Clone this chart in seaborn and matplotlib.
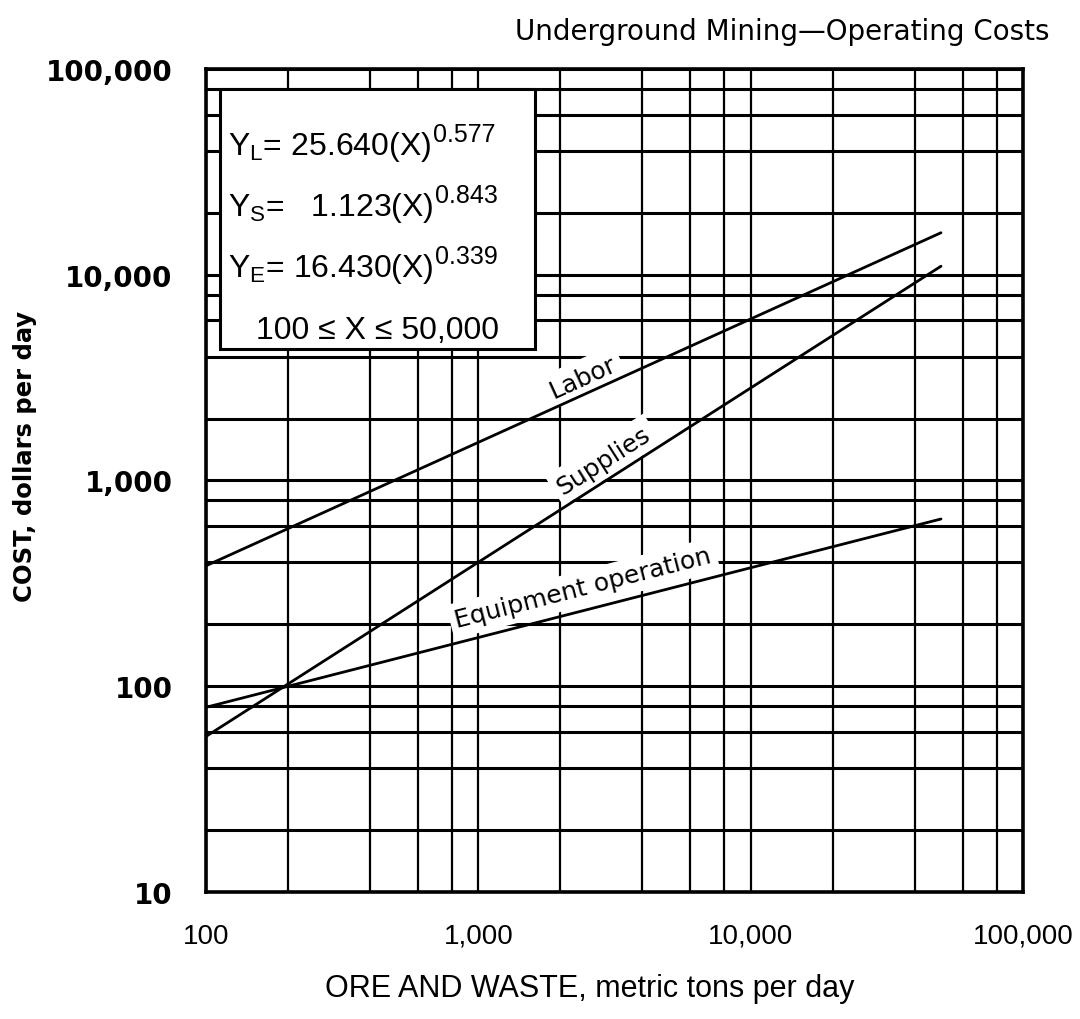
import numpy as np
import pandas as pd
import seaborn as sns
import matplotlib.pyplot as plt
from matplotlib.ticker import LogLocator, FixedLocator, FixedFormatter, NullFormatter
from matplotlib.patches import Rectangle

# Data (end points of straight log-log lines)
x_tpd = [100, 50000]
labor = [385, 16000]
supplies = [57, 11000]
equipment = [79, 650]

x_ticks = [100, 1000, 10000, 100000]
x_ticklabels = ["100", "1,000", "10,000", "100,000"]
y_ticks = [10, 100, 1000, 10000, 100000]
y_ticklabels = ["10", "100", "1,000", "10,000", "100,000"]
grid_subs = [2, 4, 6, 8]

eq_bases = [r"Y$_\mathrm{L}$= 25.640(X)",
            r"Y$_\mathrm{S}$=   1.123(X)",
            r"Y$_\mathrm{E}$= 16.430(X)"]
eq_powers = ["0.577", "0.843", "0.339"]
x_range_text = "100 \u2264 X \u2264 50,000"

sns.set_theme(style="white")
plt.rcParams["font.family"] = ["DejaVu Sans"]
for k in ["text.color", "axes.labelcolor", "xtick.color", "ytick.color"]:
    plt.rcParams[k] = "black"
plt.rcParams["mathtext.fontset"] = "custom"
plt.rcParams["mathtext.rm"] = "Liberation Sans"
plt.rcParams["mathtext.it"] = "Liberation Sans"

fig = plt.figure(figsize=(10.8, 10.2), dpi=100)
ax = fig.add_axes([0.1907, 0.1245, 0.7565, 0.8069])

df = pd.concat([
    pd.DataFrame({"x": x_tpd, "cost": labor, "item": "Labor"}),
    pd.DataFrame({"x": x_tpd, "cost": supplies, "item": "Supplies"}),
    pd.DataFrame({"x": x_tpd, "cost": equipment, "item": "Equipment operation"}),
])
sns.lineplot(data=df, x="x", y="cost", hue="item", palette=["black"] * 3,
             linewidth=2.0, legend=False, ax=ax, zorder=3)

ax.set_xscale("log")
ax.set_yscale("log")
ax.set_xlim(100, 100000)
ax.set_ylim(10, 100000)

ax.xaxis.set_major_locator(FixedLocator(x_ticks))
ax.xaxis.set_major_formatter(FixedFormatter(x_ticklabels))
ax.yaxis.set_major_locator(FixedLocator(y_ticks))
ax.yaxis.set_major_formatter(FixedFormatter(y_ticklabels))
ax.xaxis.set_minor_locator(LogLocator(base=10, subs=grid_subs))
ax.yaxis.set_minor_locator(LogLocator(base=10, subs=grid_subs))
ax.xaxis.set_minor_formatter(NullFormatter())
ax.yaxis.set_minor_formatter(NullFormatter())

ax.grid(True, which="both", axis="x", color="black", linewidth=1.6)
ax.grid(True, which="both", axis="y", color="black", linewidth=2.2)
ax.set_axisbelow(True)
for s in ax.spines.values():
    s.set_color("black")
    s.set_linewidth(2.6)

ax.tick_params(which="both", length=0)
ax.tick_params(axis="x", pad=22, labelsize=20)
ax.tick_params(axis="y", pad=24, labelsize=20)
for t in ax.get_xticklabels():
    t.set_family("Liberation Sans")
for t in ax.get_yticklabels():
    t.set_fontweight("bold")

ax.set_xlabel("ORE AND WASTE, metric tons per day", family="Liberation Sans", fontsize=22)
ax.set_ylabel("COST, dollars per day", fontweight="bold", fontsize=17.5)
ax.xaxis.set_label_coords(0.47, -0.098)
ax.yaxis.set_label_coords(-0.207, 0.53)

fig.text(0.972, 1 - 32 / 1020, "Underground Mining\u2014Operating Costs",
         ha="right", va="center", fontsize=20)

# equation box
box = Rectangle((0.017, 0.66), 0.386, 0.316, transform=ax.transAxes,
                facecolor="white", edgecolor="black", linewidth=2.2, zorder=4)
ax.add_patch(box)
for i, (base, pw) in enumerate(zip(eq_bases, eq_powers)):
    t = ax.text(0.027, 0.906 - i * 0.074, base, transform=ax.transAxes, fontsize=23,
                family="Liberation Sans", ha="left", va="center", zorder=5)
    ax.annotate(pw, xy=(1.0, 0.66), xycoords=t, xytext=(1, 0),
                textcoords="offset points", fontsize=18, family="Liberation Sans",
                ha="left", va="baseline", zorder=5)
ax.text(0.21, 0.683, x_range_text, transform=ax.transAxes, fontsize=23,
        family=["Liberation Sans", "DejaVu Sans"], ha="center", va="center", zorder=5)


# curve labels, rotated along the lines
def line_angle(xs, ys):
    p0 = ax.transData.transform((xs[0], ys[0]))
    p1 = ax.transData.transform((xs[1], ys[1]))
    return np.degrees(np.arctan2(p1[1] - p0[1], p1[0] - p0[0]))


labels = [("Labor", 2430, 3190, labor),
          ("Supplies", 2880, 1260, supplies),
          ("Equipment operation", 2430, 300, equipment)]
for name, lx, ly, ys in labels:
    ax.text(lx, ly, name, fontsize=18, ha="center", va="center",
            rotation=line_angle(x_tpd, ys), rotation_mode="anchor", zorder=2,
            bbox=dict(facecolor="white", edgecolor="none", pad=4))

fig.savefig("out.png", dpi=100)
